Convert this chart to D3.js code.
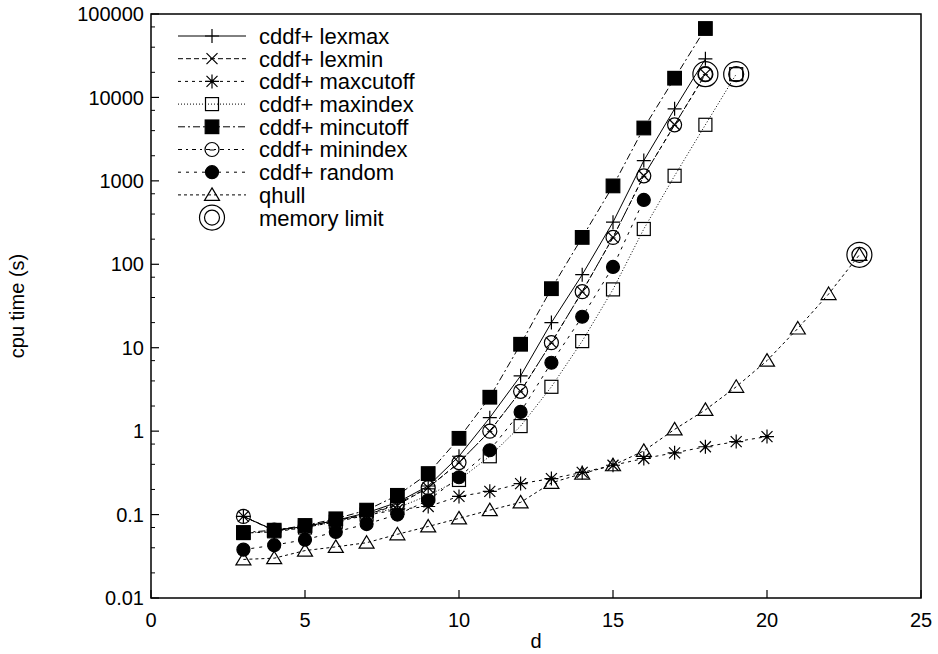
<!DOCTYPE html>
<html><head><meta charset="utf-8">
<script src="https://cdn.jsdelivr.net/npm/d3@7"></script>
<style>body{margin:0;background:#fff}text{font-family:"Liberation Sans",Arial,Helvetica,sans-serif;fill:#000}</style>
</head><body><svg id="c" width="938" height="654"></svg>
<script>
// ---- data ----
const dims = [3,4,5,6,7,8,9,10,11,12,13,14,15,16,17,18,19,20,21,22,23];
const lexmax    = [0.095,0.065,0.072,0.085,0.105,0.14,0.22,0.5,1.45,4.6,20,75,320,1750,7300,29000];
const lexmin    = [0.095,0.064,0.072,0.085,0.1,0.13,0.21,0.42,1.0,3.0,11.5,47,210,1150,4700,19000];
const maxcutoff = [0.06,0.062,0.07,0.082,0.098,0.115,0.125,0.165,0.19,0.235,0.27,0.32,0.39,0.47,0.55,0.65,0.75,0.86];
const maxindex  = [0.06,0.063,0.07,0.082,0.1,0.12,0.17,0.26,0.5,1.15,3.4,12,50,265,1150,4700,19000];
const mincutoff = [0.061,0.065,0.074,0.089,0.113,0.17,0.31,0.82,2.55,11,51,210,870,4300,17000,67000];
const minindex  = [0.095,0.065,0.072,0.085,0.1,0.135,0.21,0.42,1.0,3.0,11.5,47,210,1150,4700,19000];
const random    = [0.038,0.043,0.05,0.062,0.077,0.1,0.148,0.28,0.59,1.7,6.6,23.5,93,590];
const qhull     = [0.029,0.03,0.037,0.041,0.046,0.058,0.072,0.09,0.113,0.14,0.24,0.31,0.39,0.58,1.05,1.8,3.4,7,17,44,130];
const memD = [18,19,23];
const memV = [19000,19000,130];
const seriesNames = ["cddf+ lexmax","cddf+ lexmin","cddf+ maxcutoff","cddf+ maxindex","cddf+ mincutoff","cddf+ minindex","cddf+ random","qhull"];
const xTicks = [0,5,10,15,20,25];
const yTicks = [0.01,0.1,1,10,100,1000,10000,100000];
const yTickLabels = ["0.01","0.1","1","10","100","1000","10000","100000"];

// ---- styles ----
const styles = [
  {m:"plus",   dash:null},
  {m:"cross",  dash:"5,3"},
  {m:"star",   dash:"3,4"},
  {m:"square", dash:"1,2"},
  {m:"fsquare",dash:"7,3,2,3"},
  {m:"circle", dash:"4,4,2,4"},
  {m:"fcircle",dash:"3,5"},
  {m:"tri",    dash:"3,3"}
];
const seriesVals = [lexmax,lexmin,maxcutoff,maxindex,mincutoff,minindex,random,qhull];

const svg = d3.select("#c");
const L=151, R=921, T=14, B=598;
const x = d3.scaleLinear().domain([0,25]).range([L,R]);
const y = d3.scaleLog().domain([0.01,100000]).range([B,T]);

function marker(g, type, cx, cy){
  const s = g.append("g").attr("transform",`translate(${cx},${cy})`)
    .attr("stroke","#000").attr("stroke-width",1.2).attr("fill","none");
  const h=7;
  if(type==="plus"){
    s.append("path").attr("d",`M${-h},0H${h}M0,${-h}V${h}`);
  } else if(type==="cross"){
    const k=5.5; s.append("path").attr("d",`M${-k},${-k}L${k},${k}M${-k},${k}L${k},${-k}`);
  } else if(type==="star"){
    const k=5.5; s.append("path").attr("d",`M${-h},0H${h}M0,${-h}V${h}M${-k},${-k}L${k},${k}M${-k},${k}L${k},${-k}`);
    s.append("circle").attr("r",1.8).attr("fill","#000").attr("stroke","none");
  } else if(type==="square"){
    s.append("rect").attr("x",-6.5).attr("y",-6.5).attr("width",13).attr("height",13);
  } else if(type==="fsquare"){
    s.append("rect").attr("x",-6.8).attr("y",-6.8).attr("width",13.6).attr("height",13.6).attr("fill","#000");
  } else if(type==="circle"){
    s.append("circle").attr("r",7);
    s.append("path").attr("d","M-2.5,0.5H2.5").attr("stroke-width",1);
  } else if(type==="fcircle"){
    s.append("circle").attr("r",6.5).attr("fill","#000");
  } else if(type==="tri"){
    s.append("path").attr("d","M0,-7L7.5,5.5L-7.5,5.5Z");
  } else if(type==="mem"){
    s.append("circle").attr("r",12.5);
    s.append("circle").attr("r",7.5);
  }
}

// frame
svg.append("rect").attr("x",L).attr("y",T).attr("width",R-L).attr("height",B-T)
  .attr("fill","none").attr("stroke","#000").attr("stroke-width",1.5);

// x axis ticks
const gx = svg.append("g");
xTicks.forEach(t=>{
  gx.append("line").attr("x1",x(t)).attr("x2",x(t)).attr("y1",B).attr("y2",B-8).attr("stroke","#000").attr("stroke-width",1.2);
  gx.append("text").attr("x",x(t)).attr("y",B+29).attr("text-anchor","middle").attr("font-size",20).text(d3.format("d")(t));
});
// y axis ticks
const gy = svg.append("g");
yTicks.forEach((t,i)=>{
  gy.append("line").attr("x1",L).attr("x2",L+8).attr("y1",y(t)).attr("y2",y(t)).attr("stroke","#000").attr("stroke-width",1.2);
  gy.append("text").attr("x",L-7).attr("y",y(t)).attr("dy","0.36em").attr("text-anchor","end").attr("font-size",20).text(yTickLabels[i]);
  if(i<yTicks.length-1){
    [2,4,7].forEach(m=>{
      const v=t*m;
      gy.append("line").attr("x1",L).attr("x2",L+4).attr("y1",y(v)).attr("y2",y(v)).attr("stroke","#000").attr("stroke-width",1);
    });
  }
});
svg.append("text").attr("transform",`translate(24,${(T+B)/2}) rotate(-90)`).attr("text-anchor","middle").attr("font-size",20).text("cpu time (s)");
svg.append("text").attr("x",(L+R)/2).attr("y",B+50).attr("text-anchor","middle").attr("font-size",20).text("d");

// series
const plot = svg.append("g");
const line = d3.line().x(d=>x(d[0])).y(d=>y(d[1]));
seriesVals.forEach((vals,i)=>{
  const pts = vals.map((v,j)=>[dims[j],v]);
  plot.append("path").attr("d",line(pts)).attr("fill","none").attr("stroke","#000").attr("stroke-width",1)
    .attr("stroke-dasharray",styles[i].dash);
  pts.forEach(p=>marker(plot,styles[i].m,x(p[0]),y(p[1])));
});
memD.forEach((d,j)=>marker(plot,"mem",x(d),y(memV[j])));

// legend
const lg = svg.append("g");
const rowY = i=>36+i*22.7;
seriesNames.forEach((n,i)=>{
  lg.append("line").attr("x1",178).attr("x2",246).attr("y1",rowY(i)).attr("y2",rowY(i))
    .attr("stroke","#000").attr("stroke-width",1).attr("stroke-dasharray",styles[i].dash);
  marker(lg,styles[i].m,212,rowY(i));
  lg.append("text").attr("x",259).attr("y",rowY(i)).attr("dy","0.36em").attr("font-size",22).text(n);
});
marker(lg,"mem",212,rowY(8));
lg.append("text").attr("x",259).attr("y",rowY(8)).attr("dy","0.36em").attr("font-size",22).text("memory limit");
</script></body></html>
